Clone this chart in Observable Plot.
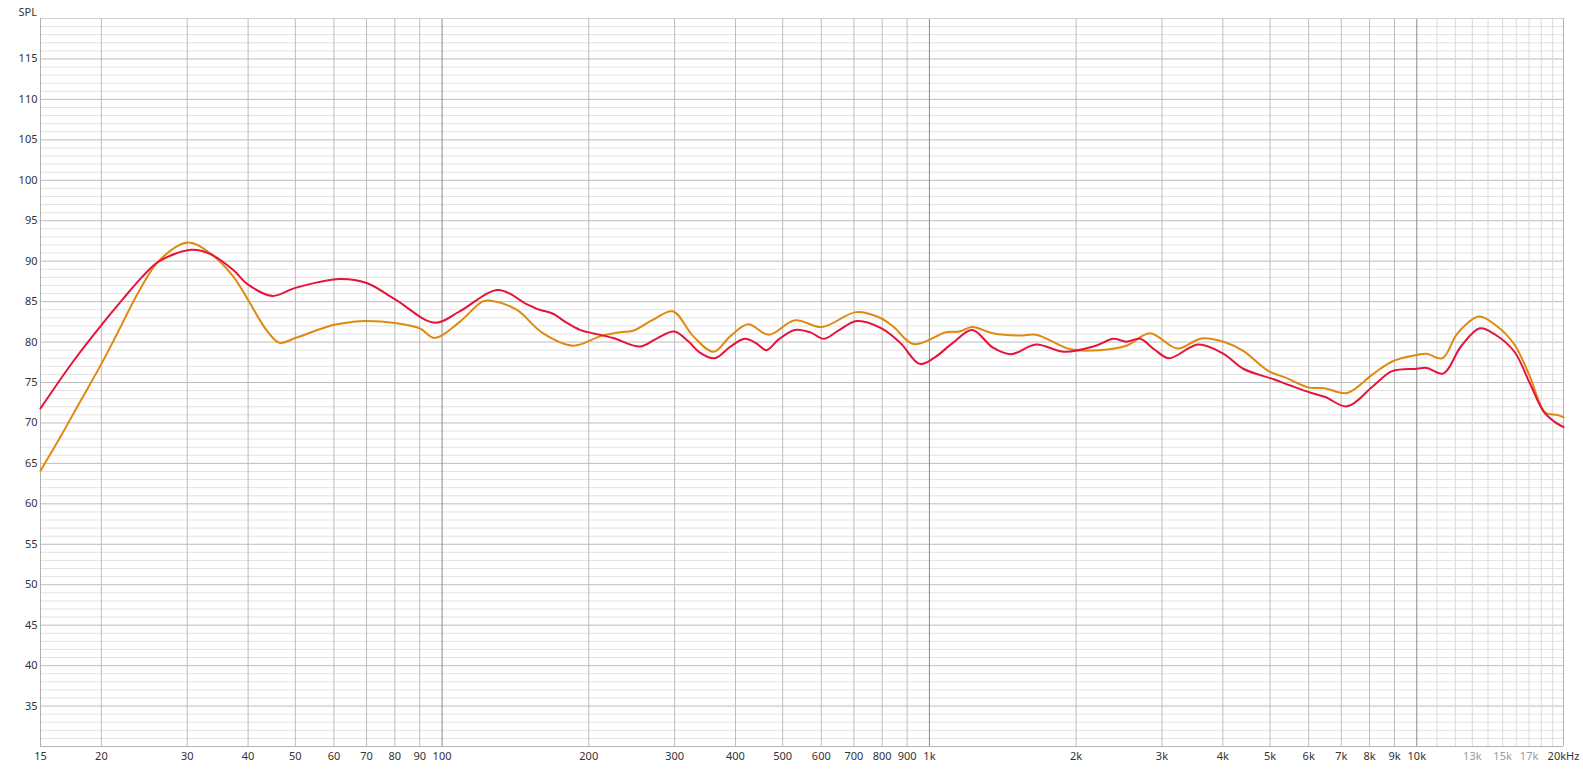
<!DOCTYPE html>
<html>
<head>
<meta charset="utf-8">
<script src="https://cdn.jsdelivr.net/npm/d3@7"></script>
<script src="https://cdn.jsdelivr.net/npm/@observablehq/plot@0.6"></script>
<style>
  html, body { margin: 0; padding: 0; background: #fff; overflow: hidden; }
  #chart svg { display: block; }
</style>
</head>
<body>
<div id="chart"></div>
<script>
// ---- Data ----
const redFreq = [15, 17.5, 20, 22.2, 24.2, 26.3, 30.6, 33.4, 37.3, 40, 44.9, 50, 61.6, 70, 80, 96.6, 108.7, 130.4, 149, 158.6, 168.9, 180, 191.8, 200, 224.5, 254.6, 275, 299.2, 320, 338, 363, 390, 417.7, 440, 463, 490, 529.7, 570, 606.4, 650, 709.3, 797.5, 871.6, 955.1, 1020, 1117, 1224, 1350, 1471, 1655, 1888, 2196, 2384, 2535, 2705, 2900, 3101, 3560, 4000, 4404, 5086, 5518, 6080, 6487, 7195, 8117, 8900, 10000, 10480, 11330, 12320, 13470, 14500, 15860, 17060, 18210, 19120, 20000];
const redSpl  = [71.8, 77.6, 82.1, 85.4, 88.0, 90.0, 91.4, 90.9, 88.9, 87.1, 85.7, 86.7, 87.8, 87.3, 85.3, 82.4, 83.8, 86.45, 84.7, 84.0, 83.5, 82.4, 81.5, 81.2, 80.5, 79.45, 80.4, 81.3, 80.1, 78.7, 78.0, 79.4, 80.4, 79.9, 79.0, 80.3, 81.5, 81.2, 80.4, 81.4, 82.6, 81.7, 79.9, 77.3, 78.0, 79.9, 81.5, 79.3, 78.5, 79.7, 78.8, 79.55, 80.4, 80.05, 80.4, 79.05, 78.0, 79.7, 78.6, 76.7, 75.4, 74.6, 73.7, 73.2, 72.05, 74.5, 76.4, 76.7, 76.8, 76.1, 79.45, 81.7, 80.9, 78.8, 74.9, 71.4, 70.2, 69.5];

const orangeFreq = [15, 16.45, 18, 20, 21.45, 24.0, 26.3, 30.1, 33.4, 37.3, 40, 43.6, 46.4, 50, 59.7, 65.6, 70, 80, 90, 96.6, 108.7, 121, 126.3, 142.2, 161, 185.8, 211, 231.7, 246.5, 270, 297.3, 327.8, 360.5, 390, 424.5, 468, 529.7, 601.7, 707, 791.7, 843.5, 927.7, 1082, 1153, 1224, 1350, 1532, 1655, 1949, 2231, 2535, 2835, 3226, 3617, 4040, 4404, 4966, 5380, 5980, 6460, 7195, 8117, 8900, 10000, 10480, 11280, 12130, 13410, 14500, 15860, 17060, 18350, 19420, 20000];
const orangeSpl  = [64.1, 68.2, 72.4, 77.3, 80.8, 86.5, 90.1, 92.3, 91.0, 88.1, 85.2, 81.5, 79.9, 80.5, 82.1, 82.5, 82.6, 82.35, 81.7, 80.5, 82.5, 85.0, 85.1, 84.0, 81.1, 79.55, 80.7, 81.2, 81.4, 82.7, 83.8, 80.7, 78.8, 80.7, 82.2, 80.9, 82.7, 81.85, 83.7, 83.0, 81.9, 79.75, 81.2, 81.3, 81.85, 81.1, 80.8, 80.9, 79.1, 79.0, 79.55, 81.1, 79.2, 80.45, 79.97, 78.9, 76.4, 75.6, 74.4, 74.3, 73.7, 76.0, 77.6, 78.4, 78.55, 78.0, 81.1, 83.15, 82.1, 79.7, 75.75, 71.3, 71.0, 70.7];

// Tick labels
const xTicksDark  = [15, 20, 30, 40, 50, 60, 70, 80, 90, 100, 200, 300, 400, 500, 600, 700, 800, 900, 1000, 2000, 3000, 4000, 5000, 6000, 7000, 8000, 9000, 10000, 20000];
const xTickLabelsDark = ["15", "20", "30", "40", "50", "60", "70", "80", "90", "100", "200", "300", "400", "500", "600", "700", "800", "900", "1k", "2k", "3k", "4k", "5k", "6k", "7k", "8k", "9k", "10k", "20kHz"];
const xTicksGrey  = [13000, 15000, 17000];
const xTickLabelsGrey = ["13k", "15k", "17k"];
const yTicks = [35, 40, 45, 50, 55, 60, 65, 70, 75, 80, 85, 90, 95, 100, 105, 110, 115];

// Grid lines
const gridXNormal = [20, 30, 40, 50, 60, 70, 80, 90, 200, 300, 400, 500, 600, 700, 800, 900, 2000, 3000, 4000, 5000, 6000, 7000, 8000, 9000];
const gridXDecade = [100, 1000, 10000];
const gridXHigh = [11000, 12000, 13000, 14000, 15000, 16000, 17000, 18000, 19000];
const gridYMinor = d3.range(31, 120).filter(v => v % 5 !== 0);
const gridYMajor = d3.range(35, 120, 5);

const red = redFreq.map((f, i) => ({f, spl: redSpl[i]}));
const orange = orangeFreq.map((f, i) => ({f, spl: orangeSpl[i]}));
const darkLabels = xTicksDark.map((t, i) => ({t, label: xTickLabelsDark[i]}));
const greyLabels = xTicksGrey.map((t, i) => ({t, label: xTickLabelsGrey[i]}));

const chart = Plot.plot({
  width: 1583,
  height: 770,
  marginLeft: 40,
  marginRight: 20,
  marginTop: 18,
  marginBottom: 24,
  style: {fontFamily: "'Noto Sans', sans-serif", fontSize: "11px", background: "#fff", color: "#333"},
  x: {type: "log", domain: [15, 20000], axis: null},
  y: {domain: [30, 120], axis: null},
  marks: [
    Plot.ruleY(gridYMinor, {stroke: "#e2e2e2", strokeWidth: 1}),
    Plot.ruleY(gridYMajor, {stroke: "#bdbdbd", strokeWidth: 1}),
    Plot.ruleX(gridXHigh, {stroke: "#dadada", strokeWidth: 1}),
    Plot.ruleX(gridXNormal, {stroke: "#bdbdbd", strokeWidth: 1}),
    Plot.ruleX(gridXDecade, {stroke: "#8a8a8a", strokeWidth: 1}),
    Plot.ruleY([120], {stroke: "#d0d0d0"}),
    Plot.ruleY([30], {stroke: "#b5b5b5"}),
    Plot.ruleX([15], {stroke: "#b0b0b0"}),
    Plot.ruleX([20000], {stroke: "#b0b0b0"}),
    Plot.line(orange, {x: "f", y: "spl", curve: "catmull-rom", stroke: "#df8a0e", strokeWidth: 2}),
    Plot.line(red, {x: "f", y: "spl", curve: "catmull-rom", stroke: "#e6143c", strokeWidth: 2}),
    Plot.text(darkLabels, {x: "t", text: "label", frameAnchor: "bottom", dy: 13, fill: "#333", fontSize: 11}),
    Plot.text(greyLabels, {x: "t", text: "label", frameAnchor: "bottom", dy: 13, fill: "#9a9a9a", fontSize: 11}),
    Plot.text(yTicks, {y: d => d, text: d => String(d), frameAnchor: "left", dx: -3, textAnchor: "end", fill: "#333", fontSize: 11}),
    Plot.text(["SPL"], {frameAnchor: "top-left", dx: -22, dy: -10, textAnchor: "start", fill: "#333", fontSize: 11})
  ]
});
document.getElementById("chart").appendChild(chart);
</script>
</body>
</html>
